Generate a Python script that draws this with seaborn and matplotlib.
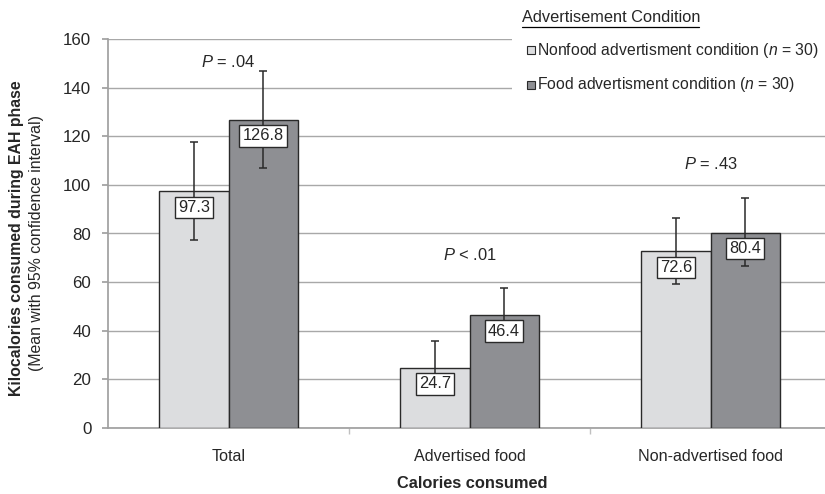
import matplotlib
matplotlib.use("Agg")
import matplotlib.pyplot as plt
import seaborn as sns
import pandas as pd
import numpy as np

categories = ["Total", "Advertised food", "Non-advertised food"]
conditions = ["Nonfood advertisment condition", "Food advertisment condition"]
nonfood_mean = [97.3, 24.7, 72.6]
food_mean = [126.8, 46.4, 80.4]
nonfood_lo = [77.3, 13.6, 59.1]
nonfood_hi = [117.6, 35.9, 86.4]
food_lo = [106.8, 35.4, 66.8]
food_hi = [147.0, 57.6, 94.4]
p_labels = ["= .04", "< .01", "= .43"]
p_y = [150.5, 71.0, 108.5]

sns.set_theme(style="white")
plt.rcParams['font.family'] = ['Liberation Sans', 'DejaVu Sans']
plt.rcParams['mathtext.fontset'] = 'custom'
plt.rcParams['mathtext.it'] = 'Liberation Sans:italic'
plt.rcParams['mathtext.rm'] = 'Liberation Sans'

df = pd.DataFrame({
    "cat": categories * 2,
    "cond": [conditions[0]] * 3 + [conditions[1]] * 3,
    "val": nonfood_mean + food_mean,
})

fig = plt.figure(figsize=(8.25, 4.94), dpi=100)
ax = fig.add_axes([108/825, (494-428)/494, (831-108)/825, (428-39)/494])

colors = ["#dcdddf", "#8e8f93"]
sns.barplot(data=df, x="cat", y="val", hue="cond", palette=colors, width=0.573,
            edgecolor="#2a2a2a", linewidth=1.0, ax=ax, legend=False, zorder=3,
            saturation=1)

ax.set_ylim(0, 160)
ax.set_xlim(-0.5, 2.5)
ax.set_yticks(np.arange(0, 161, 20))
ax.yaxis.grid(True, color="#a8a8a8", linewidth=1.0, zorder=0)
ax.set_axisbelow(True)
for s in ["top", "right"]:
    ax.spines[s].set_visible(False)
ax.spines["left"].set_color("#a0a0a0")
ax.spines["bottom"].set_color("#a0a0a0")
ax.tick_params(axis="y", length=4, color="#a0a0a0", labelsize=12.2, pad=8, left=True)
ax.tick_params(axis="x", length=0, labelsize=11.6, pad=15)
ax.set_xticks([0.5, 1.5], minor=True)
ax.tick_params(axis="x", which="minor", length=4, color="#c0c0c0", bottom=True)

off = 0.573 / 4
means = [nonfood_mean, food_mean]
los = [nonfood_lo, food_lo]
his = [nonfood_hi, food_hi]
for k, sign in enumerate([-1, 1]):
    for i in range(3):
        x = i + sign * off
        ax.errorbar(x, means[k][i],
                    yerr=[[means[k][i] - los[k][i]], [his[k][i] - means[k][i]]],
                    fmt="none", ecolor="#2a2a2a", elinewidth=1.1, capsize=3,
                    capthick=1.1, zorder=4)
        ax.text(x, means[k][i] - 6.6, f"{means[k][i]:.1f}", ha="center", va="center",
                fontsize=11.8, zorder=5,
                bbox=dict(boxstyle="square,pad=0.2", fc="white", ec="#2a2a2a", lw=1.0))

for i in range(3):
    ax.text(i, p_y[i], r"$\it{P}$ " + p_labels[i], ha="center", va="center",
            fontsize=11.9, zorder=5)

ax.set_xlabel("")
ax.set_ylabel("")
fig.text(472/825, (494-483)/494, "Calories consumed", fontsize=11.8,
         fontweight="bold", ha="center", va="center")
fig.text(0.020, (494-238)/494, "Kilocalories consumed during EAH phase",
         rotation=90, ha="center", va="center", fontsize=11.4, fontweight="bold")
fig.text(0.044, (494-243)/494, "(Mean with 95% confidence interval)",
         rotation=90, ha="center", va="center", fontsize=11.4)

# legend
fig.patches.append(plt.Rectangle((512/825, (494-128)/494), 320/825, 128/494,
                                 transform=fig.transFigure, fc="white", ec="none",
                                 zorder=10))
fig.text(522/825, (494-18)/494, "Advertisement Condition", fontsize=11.8,
         ha="left", va="center", zorder=11)
fig.add_artist(plt.Line2D([522/825, 699/825], [(494-27)/494, (494-27)/494],
                          color="black", lw=0.9, zorder=11))
leg_y = [50, 85]
leg_txt = [r"Nonfood advertisment condition ($\it{n}$ = 30)",
           r"Food advertisment condition ($\it{n}$ = 30)"]
for c, y, t in zip(colors, leg_y, leg_txt):
    fig.patches.append(plt.Rectangle((527/825, (494-y-4)/494), 8/825, 8/494,
                                     transform=fig.transFigure, fc=c, ec="#2a2a2a",
                                     lw=0.8, zorder=11))
    fig.text(537/825, (494-y)/494, t, fontsize=11.3, ha="left", va="center", zorder=11)

fig.savefig("out.png", dpi=100)
